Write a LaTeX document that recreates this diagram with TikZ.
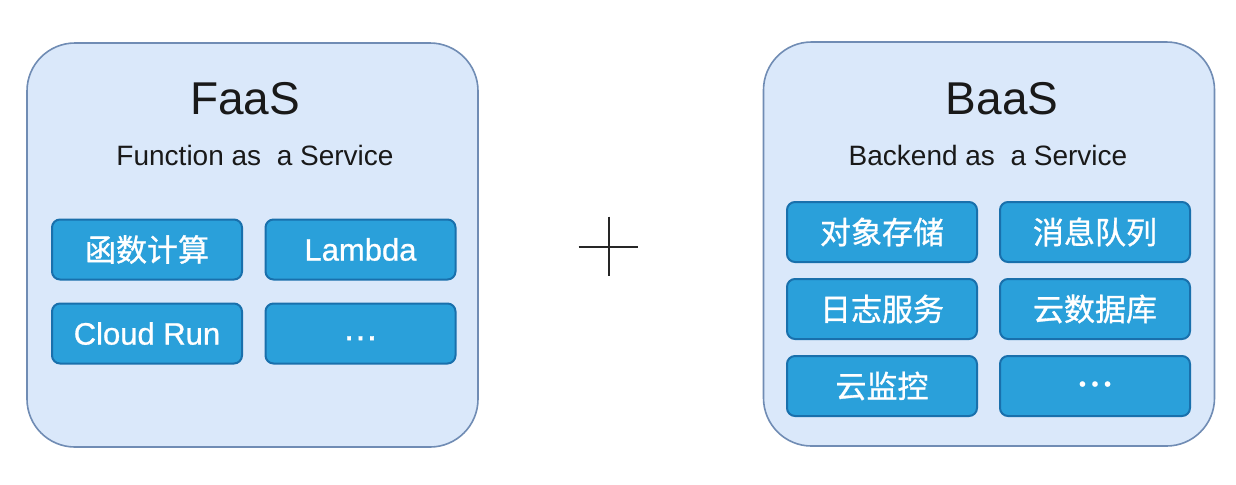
\documentclass[tikz,border=0pt]{standalone}
\usepackage{fontspec}
\setmainfont{Liberation Sans}
\newfontfamily\itemfont{Liberation Sans}[FakeBold=0.8]
\newfontfamily\cjk{Noto Sans CJK SC}[FakeBold=1]
\usetikzlibrary{positioning}

\definecolor{panelfill}{RGB}{218,232,250}
\definecolor{paneldraw}{RGB}{112,140,180}
\definecolor{itemfill}{RGB}{42,160,218}
\definecolor{itemdraw}{RGB}{25,112,172}

\begin{document}
\begin{tikzpicture}[x=0.5pt, y=-0.5pt, on grid]
    \tikzset{
        panel/.style={draw=paneldraw, fill=panelfill, line width=0.8pt, rounded corners=24pt,
            minimum width=225.5pt, minimum height=202pt},
        title/.style={inner sep=0pt, text=black!90, font=\fontsize{23}{26}\selectfont},
        subtitle/.style={inner sep=0pt, text=black!90, font=\fontsize{14}{16}\selectfont},
        item/.style={draw=itemdraw, fill=itemfill, line width=1pt, rounded corners=4pt,
            minimum width=95pt, minimum height=30pt, inner sep=0pt, text=white,
            font=\fontsize{15.5}{18}\selectfont\itemfont}
    }
    \path[use as bounding box, fill=white] (0,0) rectangle (1236,484);

    % PANELS
    \node[panel] (faas) at (252.5,245) {};
    \node[panel] (baas) at (989,244) {};

    % TITLES
    \node[title] (faasT) at (245,98.5) {FaaS};
    \node[subtitle] (faasS) at (255,155.5) {Function as\ \ a Service};
    \node[title] (baasT) at (1002,99) {BaaS};
    \node[subtitle] (baasS) at (988,155) {Backend as\ \ a Service};

    % FAAS ITEMS
    \node[item] (f1) at (147,249.5) {\cjk 函数计算};
    \node[item] (f2) [right=106.75pt of f1] {Lambda};
    \node[item] (f3) [below=42pt of f1] {Cloud Run};
    \node[item] (f4) [right=106.75pt of f3] {\fontsize{18}{20}\selectfont\raisebox{-3.3pt}[0pt][0pt]{…}};

    % BAAS ITEMS
    \node[item] (b1) at (882,232) {\cjk 对象存储};
    \node[item] (b2) [right=106.5pt of b1] {\cjk 消息队列};
    \node[item] (b3) [below=38.5pt of b1] {\cjk 日志服务};
    \node[item] (b4) [right=106.5pt of b3] {\cjk 云数据库};
    \node[item] (b5) [below=38.5pt of b3] {\cjk 云监控};
    \node[item] (b6) [right=106.5pt of b5] {\fontsize{10}{12}\selectfont • • •};

    % PLUS
    \node[inner sep=0pt, minimum size=29.5pt] (plus) at (608.5,246.5) {};
    \draw[line width=1pt, black!85] (plus.west) -- (plus.east) (plus.north) -- (plus.south);

\end{tikzpicture}
\end{document}
